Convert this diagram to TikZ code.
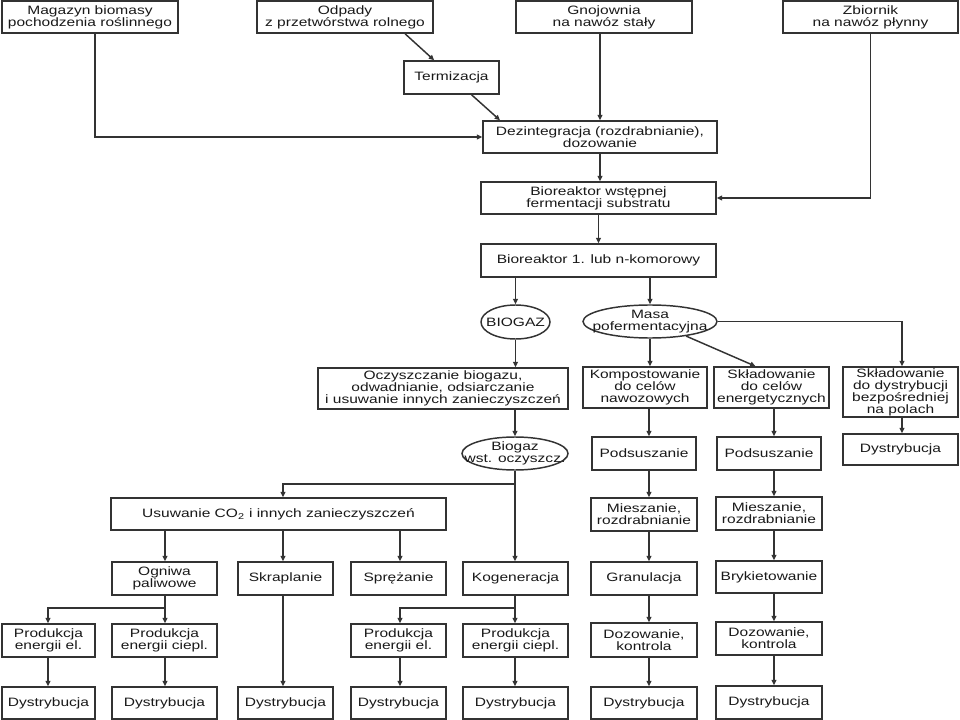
\documentclass[tikz,border=0pt]{standalone}
\usepackage{fontspec}
\setmainfont{Liberation Sans}[FakeStretch=1.28]
\usetikzlibrary{arrows.meta,shapes.geometric}
\newcommand{\B}[6]{\node[box, minimum width={(#4-#2)*0.75pt}, minimum height={(#5-#3)*0.75pt}] (#1) at ({(#2+#4)/2},{(#3+#5)/2}) {#6};}
\newcommand{\E}[6]{\node[ell, minimum width={(#4-#2)*0.75pt}, minimum height={(#5-#3)*0.75pt}, label={[lbl]center:#6}] (#1) at ({(#2+#4)/2},{(#3+#5)/2}) {};}
\begin{document}
\begin{tikzpicture}[x=0.75pt,y=-0.75pt,
  font=\fontsize{9.1}{9.0}\selectfont,
  line width=1.1pt, draw=black!80, text=black!90,
  box/.style={draw, rectangle, align=center, inner sep=0pt, fill=white},
  ell/.style={draw, ellipse, inner sep=0pt, fill=white},
  lbl/.style={align=center, inner sep=0pt, text=black!90},
  arr/.style={-{Triangle[length=4pt,width=3.6pt]}}]
\useasboundingbox[fill=white] (0,0) rectangle (960,720);
% top row
\B{mag}{2}{1}{178}{33}{Magazyn biomasy\\pochodzenia roślinnego}
\B{odp}{257}{1}{433}{33}{Odpady\\z przetwórstwa rolnego}
\B{gno}{516}{1}{692}{33}{Gnojownia\\na nawóz stały}
\B{zbi}{783}{1}{958}{33}{Zbiornik\\na nawóz płynny}
\B{ter}{404}{61}{499}{94}{Termizacja}
\B{dez}{483}{121}{717}{153}{Dezintegracja (rozdrabnianie),\\dozowanie}
\B{bw}{481}{182}{716}{214}{Bioreaktor wstępnej\\fermentacji substratu}
\B{bone}{481}{244}{716}{277}{Bioreaktor 1. lub n-komorowy}
\E{biogaz}{481}{305}{550}{339}{BIOGAZ}
\E{masa}{583}{305}{717}{338}{Masa\\pofermentacyjna}
\B{ocz}{318}{368}{568}{409}{Oczyszczanie biogazu,\\odwadnianie, odsiarczanie\\i usuwanie innych zanieczyszczeń}
\B{kom}{583}{367}{707}{408}{Kompostowanie\\do celów\\nawozowych}
\B{ske}{714}{367}{829}{408}{Składowanie\\do celów\\energetycznych}
\B{skd}{843}{367}{958}{417}{Składowanie\\do dystrybucji\\bezpośredniej\\na polach}
\E{bws}{462}{437}{568}{470}{Biogaz\\wst. oczyszcz.}
\B{podA}{592}{437}{696}{470}{Podsuszanie}
\B{podB}{717}{437}{821}{470}{Podsuszanie}
\B{dysd}{843}{434}{958}{465}{Dystrybucja}
\B{usu}{111}{498}{446}{530}{Usuwanie CO\textsubscript{2} i innych zanieczyszczeń}
\B{mieA}{591}{498}{697}{531}{Mieszanie,\\rozdrabnianie}
\B{mieB}{716}{497}{822}{530}{Mieszanie,\\rozdrabnianie}
\B{ogn}{112}{562}{217}{595}{Ogniwa\\paliwowe}
\B{skr}{238}{562}{333}{595}{Skraplanie}
\B{spr}{351}{562}{446}{595}{Sprężanie}
\B{kog}{463}{562}{568}{595}{Kogeneracja}
\B{gra}{591}{562}{697}{595}{Granulacja}
\B{bry}{716}{561}{822}{593}{Brykietowanie}
\B{peA}{2}{624}{95}{657}{Produkcja\\energii el.}
\B{pcA}{112}{624}{217}{657}{Produkcja\\energii ciepl.}
\B{peB}{351}{624}{446}{657}{Produkcja\\energii el.}
\B{pcB}{463}{624}{568}{657}{Produkcja\\energii ciepl.}
\B{dozA}{591}{623}{697}{657}{Dozowanie,\\kontrola}
\B{dozB}{716}{622}{822}{655}{Dozowanie,\\kontrola}
\B{dA}{2}{687}{95}{719}{Dystrybucja}
\B{dB}{112}{687}{217}{719}{Dystrybucja}
\B{dC}{238}{687}{333}{719}{Dystrybucja}
\B{dD}{351}{687}{446}{719}{Dystrybucja}
\B{dE}{463}{687}{568}{719}{Dystrybucja}
\B{dF}{591}{687}{697}{719}{Dystrybucja}
\B{dG}{716}{686}{822}{719}{Dystrybucja}
% column coordinates
\coordinate (xL) at (649,0);
\coordinate (xR) at (774,0);
\coordinate (xD) at (902,0);
\coordinate (xS) at (283,0);
\coordinate (xO) at (165,0);
\coordinate (xP) at (400,0);
\coordinate (xE) at (48,0);
\coordinate (xK) at (515,0);
\coordinate (ja) at (515,484);
\coordinate (jb) at (165,608);
\coordinate (jc) at (515,608);
% connectors top
\draw[arr] ([xshift=3.75pt]mag.south) |- (dez.west);
\draw[arr] ([xshift=45pt]odp.south) -- ([xshift=-13pt]ter.north);
\draw[arr] ([xshift=15pt]ter.south) -- ([xshift=-75pt]dez.north);
\draw[arr] (gno.south -| dez.north) -- (dez.north);
\draw[arr] (zbi.south) |- (bw.east);
\draw[arr] (dez.south) -- (dez.south |- bw.north);
\draw[arr] (bw.south) -- (bone.north);
\draw[arr] (bone.south -| biogaz.north) -- (biogaz.north);
\draw[arr] (bone.south -| masa.north) -- (masa.north);
\draw[arr] (biogaz.south) -- (biogaz.south |- ocz.north);
\draw[arr] (ocz.south -| bws.north) -- (bws.north);
\draw[arr] (masa.south) -- (masa.south |- kom.north);
\draw[arr] (masa.-22) -- ([xshift=-12pt]ske.north);
\draw[arr] (masa.east) -| (skd.north -| xD);
\draw[arr] (skd.south -| xD) -- (dysd.north -| xD);
% right columns
\foreach \a/\b in {kom/podA, podA/mieA, mieA/gra, gra/dozA, dozA/dF}
  \draw[arr] (\a.south -| xL) -- (\b.north -| xL);
\foreach \a/\b in {ske/podB, podB/mieB, mieB/bry, bry/dozB, dozB/dG}
  \draw[arr] (\a.south -| xR) -- (\b.north -| xR);
% biogas branch
\draw (bws.south) -- (ja);
\draw[arr] (ja) -| (usu.north -| xS);
\draw[arr] (ja) -- (ja |- kog.north);
\draw[arr] (usu.south -| xO) -- (ogn.north -| xO);
\draw[arr] (usu.south -| xS) -- (skr.north -| xS);
\draw[arr] (usu.south -| xP) -- (spr.north -| xP);
\draw (ogn.south -| xO) -- (jb);
\draw[arr] (jb) -| (peA.north -| xE);
\draw[arr] (jb) -- (pcA.north -| xO);
\draw (kog.south -| xK) -- (jc);
\draw[arr] (jc) -| (peB.north -| xP);
\draw[arr] (jc) -- (pcB.north -| xK);
\draw[arr] (skr.south -| xS) -- (dC.north -| xS);
\draw[arr] (peA.south -| xE) -- (dA.north -| xE);
\draw[arr] (pcA.south -| xO) -- (dB.north -| xO);
\draw[arr] (peB.south -| xP) -- (dD.north -| xP);
\draw[arr] (pcB.south -| xK) -- (dE.north -| xK);
\end{tikzpicture}
\end{document}
